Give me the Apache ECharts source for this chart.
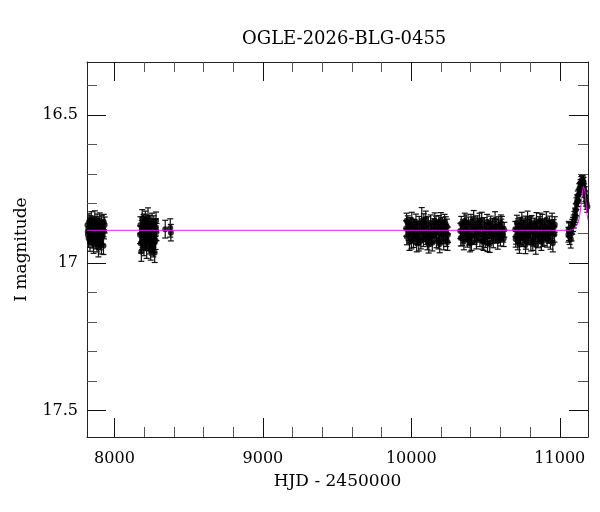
<!DOCTYPE html>
<html>
<head>
<meta charset="utf-8">
<script src="https://cdn.jsdelivr.net/npm/echarts@6/dist/echarts.min.js"></script>
<style>
  html, body { margin: 0; padding: 0; background: #fff; }
  #container { width: 600px; height: 512px; }
</style>
</head>
<body>
<div id="container"></div>
<script>
// photometry per season: [HJD - 2450000, I mag, error]
var s2017 = [
  [7818,16.872,0.026],[7821,16.905,0.028],[7824,16.884,0.025],[7826,16.918,0.030],[7829,16.861,0.027],
  [7832,16.893,0.024],[7835,16.930,0.031],[7838,16.876,0.026],[7841,16.902,0.025],[7844,16.855,0.028],
  [7847,16.889,0.024],[7850,16.912,0.027],[7853,16.868,0.026],[7856,16.897,0.025],[7859,16.938,0.030],
  [7862,16.880,0.026],[7865,16.906,0.027],[7868,16.852,0.028],[7871,16.891,0.024],[7874,16.924,0.029],
  [7877,16.874,0.025],[7880,16.900,0.026],[7883,16.862,0.027],[7886,16.915,0.028],[7889,16.887,0.024],
  [7892,16.948,0.032],[7895,16.870,0.026],[7898,16.903,0.025],[7901,16.858,0.027],[7904,16.926,0.030],
  [7907,16.884,0.025],[7910,16.898,0.026],[7914,16.866,0.027],[7918,16.911,0.028],[7922,16.881,0.025],
  [7926,16.942,0.030],[7930,16.893,0.026],[7934,16.872,0.027],
  [7820,16.895,0.026],[7836,16.866,0.025],[7852,16.922,0.028],[7866,16.884,0.025],[7882,16.934,0.029],
  [7896,16.892,0.026],[7912,16.940,0.030],[7928,16.862,0.026]
];
var s2018 = [
  [8172,16.905,0.030],[8175,16.872,0.028],[8178,16.935,0.032],[8181,16.962,0.033],[8184,16.886,0.029],
  [8187,16.850,0.030],[8190,16.918,0.031],[8193,16.898,0.028],[8196,16.866,0.029],[8199,16.944,0.032],
  [8202,16.880,0.028],[8205,16.910,0.030],[8208,16.856,0.031],[8211,16.928,0.030],[8214,16.892,0.028],
  [8217,16.952,0.033],[8220,16.874,0.029],[8223,16.904,0.030],[8226,16.846,0.032],[8229,16.920,0.031],
  [8232,16.884,0.028],[8235,16.938,0.032],[8238,16.868,0.029],[8241,16.900,0.030],[8244,16.958,0.033],
  [8247,16.878,0.028],[8250,16.914,0.031],[8253,16.862,0.030],[8256,16.930,0.031],[8259,16.890,0.028],
  [8262,16.948,0.032],[8265,16.870,0.029],[8268,16.906,0.030],[8271,16.966,0.033],[8274,16.882,0.029],
  [8277,16.924,0.031],[8280,16.858,0.030],[8283,16.896,0.029],
  [8186,16.926,0.030],[8200,16.864,0.029],[8216,16.900,0.030],[8236,16.890,0.029],[8252,16.942,0.032],
  [8266,16.934,0.031],[8279,16.880,0.029],
  [8342,16.886,0.030],[8376,16.882,0.031],[8380,16.898,0.028]
];
var s2023 = [
  [9965,16.884,0.026],[9970,16.912,0.027],[9976,16.866,0.025],[9981,16.898,0.026],[9987,16.930,0.028],
  [9992,16.872,0.025],[9998,16.905,0.026],[10003,16.856,0.027],[10009,16.889,0.025],[10014,16.921,0.027],
  [10020,16.878,0.025],[10025,16.900,0.026],[10031,16.862,0.027],[10036,16.934,0.029],[10042,16.886,0.025],
  [10047,16.914,0.026],[10053,16.869,0.026],[10058,16.895,0.025],[10064,16.925,0.028],[10070,16.858,0.045],
  [10075,16.892,0.025],[10081,16.918,0.027],[10086,16.874,0.026],[10092,16.903,0.025],[10097,16.852,0.027],
  [10103,16.887,0.025],[10108,16.928,0.028],[10114,16.870,0.026],[10119,16.899,0.025],[10125,16.916,0.027],
  [10130,16.864,0.026],[10136,16.893,0.025],[10141,16.932,0.028],[10147,16.876,0.025],[10152,16.907,0.026],
  [10158,16.858,0.027],[10163,16.890,0.025],[10169,16.922,0.027],[10174,16.880,0.025],[10180,16.897,0.026],
  [10185,16.866,0.026],[10191,16.936,0.030],[10196,16.884,0.025],[10202,16.910,0.026],[10207,16.872,0.026],
  [10213,16.901,0.025],[10218,16.928,0.028],[10224,16.862,0.026],[10229,16.894,0.025],[10235,16.918,0.027],
  [10240,16.878,0.026],[10246,16.905,0.026],
  [9968,16.858,0.026],[9984,16.880,0.025],[10000,16.926,0.027],[10017,16.894,0.025],[10034,16.910,0.026],
  [10050,16.932,0.028],[10067,16.884,0.025],[10084,16.860,0.026],[10100,16.912,0.026],[10117,16.938,0.029],
  [10133,16.908,0.026],[10150,16.886,0.025],[10166,16.868,0.026],[10183,16.926,0.027],[10199,16.856,0.026],
  [10216,16.884,0.025],[10232,16.870,0.026],[10244,16.930,0.028]
];
var s2024 = [
  [10330,16.892,0.026],[10336,16.868,0.025],[10342,16.915,0.027],[10348,16.880,0.025],[10354,16.928,0.028],
  [10360,16.858,0.026],[10366,16.902,0.025],[10372,16.886,0.026],[10378,16.920,0.027],[10384,16.870,0.025],
  [10390,16.896,0.026],[10396,16.934,0.029],[10402,16.862,0.026],[10408,16.908,0.025],[10414,16.878,0.026],
  [10420,16.850,0.027],[10426,16.912,0.026],[10432,16.888,0.025],[10438,16.925,0.028],[10444,16.866,0.025],
  [10450,16.898,0.026],[10456,16.874,0.025],[10462,16.918,0.027],[10468,16.884,0.025],[10474,16.856,0.027],
  [10480,16.904,0.026],[10486,16.930,0.028],[10492,16.872,0.025],[10498,16.920,0.028],[10504,16.890,0.025],
  [10510,16.862,0.026],[10516,16.910,0.026],[10522,16.880,0.025],[10528,16.936,0.029],[10534,16.868,0.026],
  [10540,16.900,0.025],[10546,16.876,0.026],[10552,16.922,0.027],[10558,16.886,0.025],[10564,16.854,0.027],
  [10570,16.906,0.026],[10576,16.894,0.025],[10582,16.926,0.028],[10588,16.870,0.026],[10594,16.898,0.025],
  [10600,16.916,0.027],[10606,16.878,0.026],[10610,16.885,0.042],[10618,16.904,0.026],[10626,16.888,0.025],
  [10333,16.916,0.027],[10351,16.896,0.026],[10369,16.864,0.026],[10387,16.914,0.026],[10405,16.930,0.028],
  [10423,16.884,0.025],[10441,16.900,0.026],[10459,16.858,0.026],[10477,16.926,0.028],[10495,16.896,0.025],
  [10513,16.934,0.028],[10531,16.892,0.025],[10549,16.908,0.026],[10567,16.878,0.025],[10585,16.904,0.026],
  [10603,16.864,0.026],[10622,16.918,0.027]
];
var s2025 = [
  [10700,16.886,0.026],[10706,16.910,0.027],[10711,16.864,0.025],[10717,16.928,0.028],[10722,16.892,0.025],
  [10728,16.938,0.030],[10733,16.872,0.026],[10739,16.900,0.025],[10744,16.856,0.027],[10750,16.918,0.027],
  [10755,16.882,0.025],[10761,16.904,0.026],[10766,16.868,0.026],[10772,16.926,0.028],[10777,16.890,0.025],
  [10783,16.852,0.027],[10788,16.912,0.026],[10794,16.878,0.025],[10799,16.898,0.026],[10805,16.932,0.028],
  [10810,16.866,0.026],[10816,16.894,0.025],[10821,16.916,0.027],[10827,16.874,0.025],[10832,16.902,0.026],
  [10838,16.940,0.031],[10843,16.860,0.030],[10849,16.888,0.025],[10854,16.922,0.027],[10860,16.870,0.026],
  [10865,16.906,0.025],[10871,16.884,0.026],[10876,16.930,0.028],[10882,16.862,0.026],[10887,16.896,0.025],
  [10893,16.914,0.027],[10898,16.876,0.025],[10904,16.900,0.026],[10909,16.854,0.027],[10915,16.920,0.027],
  [10920,16.886,0.025],[10926,16.908,0.026],[10931,16.868,0.026],[10937,16.926,0.028],[10942,16.892,0.025],
  [10948,16.862,0.030],[10953,16.934,0.029],[10959,16.880,0.026],[10964,16.904,0.026],
  [10703,16.920,0.027],[10719,16.876,0.025],[10736,16.912,0.026],[10752,16.896,0.025],[10769,16.940,0.029],
  [10785,16.906,0.026],[10802,16.870,0.026],[10818,16.930,0.028],[10835,16.884,0.025],[10851,16.908,0.026],
  [10868,16.858,0.026],[10884,16.918,0.027],[10901,16.888,0.025],[10917,16.904,0.026],[10934,16.882,0.025],
  [10951,16.898,0.026],[10966,16.870,0.026]
];
var s2026 = [
  [11058,16.905,0.025],[11062,16.895,0.030],[11066,16.910,0.028],[11070,16.888,0.025],[11074,16.920,0.030],
  [11079,16.900,0.026],[11084,16.878,0.025],[11089,16.870,0.024],[11094,16.860,0.022],[11099,16.848,0.022],
  [11103,16.835,0.020],[11108,16.820,0.020],[11112,16.800,0.020],[11117,16.790,0.020],[11121,16.775,0.018],
  [11126,16.770,0.018],[11131,16.750,0.018],[11136,16.745,0.017],[11140,16.735,0.017],[11145,16.725,0.017],
  [11150,16.720,0.016],[11153,16.730,0.016],[11156,16.722,0.016],[11160,16.728,0.017],[11164,16.750,0.017],
  [11168,16.760,0.018],[11172,16.775,0.018],[11177,16.790,0.018],[11181,16.800,0.019],[11186,16.810,0.019],
  [11060,16.886,0.026],[11106,16.842,0.021],[11124,16.790,0.019],[11143,16.742,0.017],[11158,16.740,0.017]
];
// model light curve
var modelCurve = [
  [7815,16.890],[11060,16.890],[11080,16.889],[11095,16.886],[11105,16.881],[11115,16.872],
  [11125,16.860],[11132,16.845],[11138,16.825],[11144,16.800],[11149,16.777],[11154,16.755],
  [11159,16.742],[11163,16.745],[11167,16.752],[11171,16.764],[11175,16.785],[11179,16.812],
  [11184,16.838],[11190,16.855]
];
var xMajorTicks = [8000, 9000, 10000, 11000];
var xMinorTicks = [8200, 8400, 8600, 8800, 9200, 9400, 9600, 9800, 10200, 10400, 10600, 10800];
var yMajorTicks = [16.5, 17, 17.5];
var yMinorTicks = [16.4, 16.6, 16.7, 16.8, 16.9, 17.1, 17.2, 17.3, 17.4];

var allPoints = s2017.concat(s2018, s2023, s2024, s2025, s2026);

var font = 'DejaVu Serif';
var xRange = { min: 7815, max: 11190 };
var yRange = { min: 16.32, max: 17.59 };

function xAxisCfg(pos, ticks, len, color, main, withLabel) {
  return {
    type: 'value', position: pos, min: xRange.min, max: xRange.max,
    splitLine: { show: false },
    axisLine: { show: main, onZero: false, lineStyle: { color: '#222', width: 1 } },
    axisTick: { show: true, inside: true, length: len, customValues: ticks, lineStyle: { color: color, width: 1 } },
    axisLabel: {
      show: withLabel, customValues: ticks, margin: 14, color: '#000', fontFamily: font, fontSize: 16,
      formatter: function (v) { return String(v); }
    },
    name: withLabel ? 'HJD - 2450000' : '', nameLocation: 'middle', nameGap: 36,
    nameTextStyle: { color: '#000', fontFamily: font, fontSize: 17 }
  };
}
function yAxisCfg(pos, ticks, len, color, main, withLabel) {
  return {
    type: 'value', position: pos, inverse: true, min: yRange.min, max: yRange.max,
    splitLine: { show: false },
    axisLine: { show: main, onZero: false, lineStyle: { color: '#222', width: 1 } },
    axisTick: { show: true, inside: true, length: len, customValues: ticks, lineStyle: { color: color, width: 1 } },
    axisLabel: { show: withLabel, customValues: ticks, margin: 9, color: '#000', fontFamily: font, fontSize: 16 },
    name: withLabel ? 'I magnitude' : '', nameLocation: 'middle', nameGap: 57,
    nameTextStyle: { color: '#000', fontFamily: font, fontSize: 17 }
  };
}

var myChart = echarts.init(document.getElementById('container'));
var option = {
  animation: false,
  title: {
    text: 'OGLE-2026-BLG-0455',
    left: 237, top: 25,
    textStyle: { fontFamily: font, fontSize: 18, fontWeight: 'normal', color: '#000' }
  },
  grid: { left: 87, right: 12, top: 62, bottom: 75 },
  xAxis: [
    xAxisCfg('bottom', xMajorTicks, 19, '#111', true, true),
    xAxisCfg('bottom', xMinorTicks, 10, '#555', false, false),
    xAxisCfg('top', xMajorTicks, 19, '#111', true, false),
    xAxisCfg('top', xMinorTicks, 10, '#555', false, false)
  ],
  yAxis: [
    yAxisCfg('left', yMajorTicks, 19, '#111', true, true),
    yAxisCfg('left', yMinorTicks, 10, '#555', false, false),
    yAxisCfg('right', yMajorTicks, 19, '#111', true, false),
    yAxisCfg('right', yMinorTicks, 10, '#555', false, false)
  ],
  series: [
    {
      name: 'errors',
      type: 'custom',
      xAxisIndex: 0, yAxisIndex: 0,
      clip: true,
      z: 1,
      encode: { x: 0, y: 1 },
      data: allPoints,
      renderItem: function (params, api) {
        var x = api.value(0), m = api.value(1), e = api.value(2);
        var lo = api.coord([x, m + e]);
        var hi = api.coord([x, m - e]);
        var w = 3;
        var st = { stroke: '#111', lineWidth: 1.2 };
        return {
          type: 'group',
          children: [
            { type: 'line', shape: { x1: lo[0], y1: lo[1], x2: hi[0], y2: hi[1] }, style: st },
            { type: 'line', shape: { x1: lo[0] - w, y1: lo[1], x2: lo[0] + w, y2: lo[1] }, style: st },
            { type: 'line', shape: { x1: hi[0] - w, y1: hi[1], x2: hi[0] + w, y2: hi[1] }, style: st }
          ]
        };
      }
    },
    {
      name: 'data',
      type: 'scatter',
      xAxisIndex: 0, yAxisIndex: 0,
      z: 2,
      symbolSize: 6,
      itemStyle: { color: '#000' },
      data: allPoints.map(function (p) { return [p[0], p[1]]; })
    },
    {
      name: 'model',
      type: 'line',
      xAxisIndex: 0, yAxisIndex: 0,
      z: 3,
      showSymbol: false,
      smooth: false,
      lineStyle: { color: '#e61ee6', width: 1 },
      data: modelCurve
    }
  ]
};
myChart.setOption(option);
</script>
</body>
</html>
